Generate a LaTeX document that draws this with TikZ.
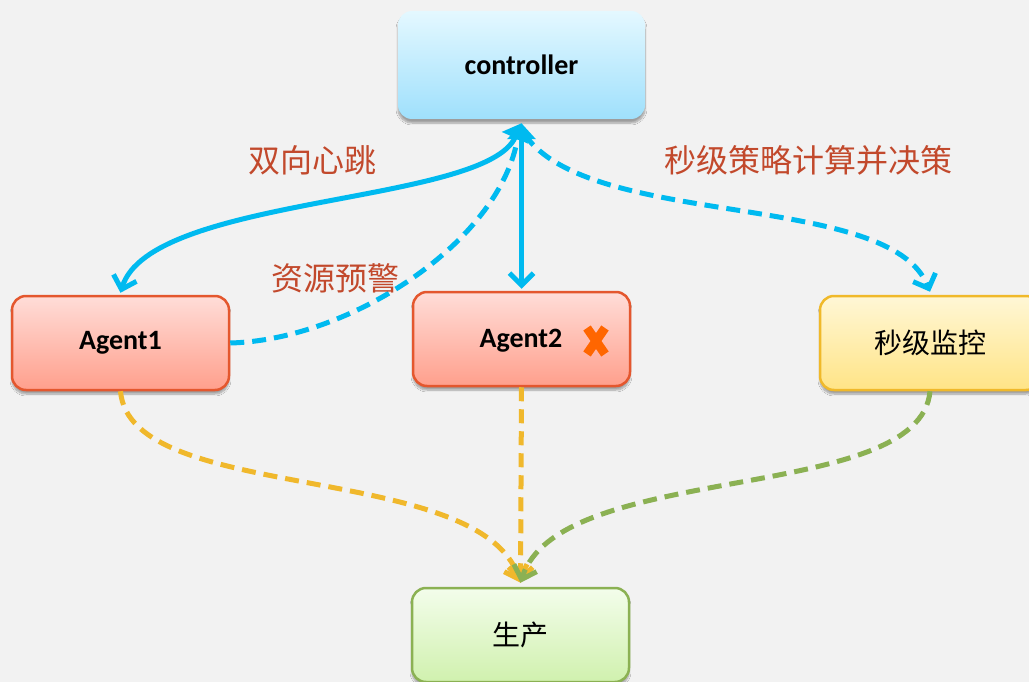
\documentclass[tikz,border=0pt]{standalone}
\usepackage{fontspec}
\setmainfont{Carlito}
\newfontfamily\cjk{Noto Sans CJK SC}
\usetikzlibrary{arrows.meta,shadows.blur}

\definecolor{bgcol}{HTML}{F2F2F2}
\definecolor{linkblue}{HTML}{00BAF0}
\definecolor{linkyellow}{HTML}{F0B82C}
\definecolor{linkgreen}{HTML}{8BB153}
\definecolor{labelred}{HTML}{C2492C}
\definecolor{agentedge}{HTML}{E4572E}
\definecolor{agenttop}{HTML}{FFDDD8}
\definecolor{agentbot}{HTML}{FF9F8C}
\definecolor{ctrltop}{HTML}{E4F8FF}
\definecolor{ctrlbot}{HTML}{9FE0FC}
\definecolor{montop}{HTML}{FFF7D6}
\definecolor{monbot}{HTML}{FFE486}
\definecolor{monedge}{HTML}{F0B92A}
\definecolor{prodtop}{HTML}{F3FDEB}
\definecolor{prodbot}{HTML}{D0F1AE}
\definecolor{prodedge}{HTML}{8BB153}
\definecolor{crossorange}{HTML}{FF6600}

\tikzset{
  box/.style={rounded corners=14pt, minimum width=217pt, minimum height=94pt,
    line width=2.5pt, inner sep=0pt,
    blur shadow={shadow xshift=0pt, shadow yshift=-4pt, shadow opacity=35, shadow blur steps=8}},
  ctrlbox/.style={box, minimum width=247pt, minimum height=108pt, draw=none,
    top color=ctrltop, bottom color=ctrlbot},
  agentbox/.style={box, draw=agentedge, top color=agenttop, bottom color=agentbot},
  monbox/.style={box, minimum width=220pt, draw=monedge, top color=montop, bottom color=monbot},
  prodbox/.style={box, draw=prodedge, top color=prodtop, bottom color=prodbot},
  latin/.style={font=\fontsize{28}{32}\selectfont\bfseries},
  hanzi/.style={font=\cjk\fontsize{28}{32}\selectfont},
  edgelabel/.style={font=\cjk\fontsize{32}{36}\selectfont, text=labelred},
  link/.style={line width=5pt},
  dashlink/.style={link, dash pattern=on 14pt off 8pt},
  vtip/.style={-{Straight Barb[length=12pt,width=24pt]}},
}

\begin{document}
\begin{tikzpicture}[x=1pt,y=-1pt]
  \fill[bgcol] (0,0) rectangle (1029,682);
  \useasboundingbox (0,0) rectangle (1029,682);

  % nodes
  \node[ctrlbox,latin] (ctrl) at (521.5,65) {controller};
  \node[agentbox,latin] (a1) at (120.5,343) {Agent1};
  \node[agentbox] (a2) at (521.5,339) {};
  \node[latin] (a2t) at (521,341) {Agent2};
  \node[monbox,hanzi] (mon) at (930,343) {秒级监控};
  \node[prodbox,hanzi] (prod) at (520.5,635) {生产};

  % failure mark on Agent2
  \coordinate (x) at (596,341);
  \draw[crossorange, line width=9pt] ([shift={(-9pt,-13pt)}]x) -- ([shift={(9pt,13pt)}]x)
                                     ([shift={(-9pt,13pt)}]x) -- ([shift={(9pt,-13pt)}]x);

  % controller <-> agents
  \coordinate (ct) at ([yshift=-3pt]ctrl.south);
  \draw[link, linkblue, {Triangle[length=16pt,width=28pt]}-{Straight Barb[length=12pt,width=24pt]}]
     (ct) .. controls (485,205) and (150,195) .. ([yshift=2pt]a1.north);
  \draw[link, linkblue, {Triangle[length=16pt,width=28pt]}-{Straight Barb[length=12pt,width=24pt]}]
     (ct) -- ([yshift=2pt]a2.north);
  \draw[dashlink, linkblue] (a1.east) .. controls (350,340) and (505,240) .. ([shift={(-3pt,-12pt)}]ctrl.south);
  \draw[dashlink, linkblue, vtip] ([shift={(3pt,-14pt)}]ctrl.south)
     .. controls (590,230) and (890,190) .. ([yshift=3pt]mon.north);

  % flows into production
  \draw[dashlink, linkyellow, vtip] (a1.south) .. controls (130,505) and (480,460) .. ([yshift=4pt]prod.north);
  \draw[dashlink, linkyellow, vtip] (a2.south) -- ([yshift=4pt]prod.north);
  \draw[dashlink, linkgreen, vtip] (mon.south) .. controls (920,505) and (560,460) .. ([yshift=4pt]prod.north);

  % labels
  \node[edgelabel] (l1) at (312,160) {双向心跳};
  \node[edgelabel] (l2) at (335,278) {资源预警};
  \node[edgelabel] (l3) at (808,160) {秒级策略计算并决策};
\end{tikzpicture}
\end{document}
